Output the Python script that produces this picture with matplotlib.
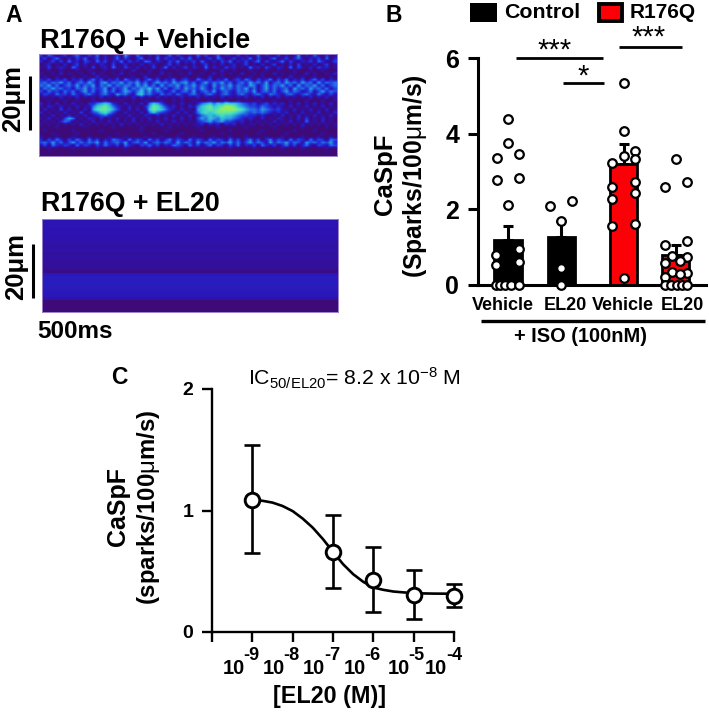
import numpy as np
import matplotlib
matplotlib.use("Agg")
import matplotlib.pyplot as plt
from matplotlib.colors import LinearSegmentedColormap
from matplotlib.patches import Rectangle
from matplotlib.lines import Line2D

plt.rcParams['font.family'] = ['Liberation Sans', 'DejaVu Sans']
plt.rcParams['mathtext.fontset'] = 'custom'
plt.rcParams['mathtext.rm'] = 'Liberation Sans'
plt.rcParams['mathtext.bf'] = 'Liberation Sans:bold'
plt.rcParams['mathtext.it'] = 'Liberation Sans:italic'

W, H = 709, 714

# panel A, intensity read by eye on a grid (0 dark .. 9 bright), one string per 3px row
vehicle_rows = [
    "30420130241031402013052041020301403102041301402103020140210302015020410301",
    "13024102031401302014031024010403120314020130420130214031024013024102130402",
    "20130304120320413021403120430210314021304102031402130240310240310213042013",
    "01201020130201021030120102012001302010201301020120130102013010203010201301",
    "10301210420103012041031020103014020130210402103120104120310210403102031201",
    "00100100010010001000100200010010001001000100020010001000100100010001001000",
    "10010201001002010010201001010020100102001002010100200101002010010020100102",
    "01001000100100201001000100200100100010010020010001001001000100200100100010",
    "21302130213024130213042130241302140231042130214023142031240314021302413021",
    "34243524134253145243524352413534253452413524352413425342513425342534152434",
    "43524134252435143524344253524152435243524315243524325413524352415243524134",
    "24353423143524235142352435463524134253425314253424352413524234153425342413",
    "31423142413524135241354246352431241342513425134214342513424135243124135243",
    "13214231421342134215342156342142314213421342134213421342143213421342142131",
    "01010201020101020101010202010201010201020101020101020102010201010102010201",
    "00100010010001001000100100100010010100100010001001000010001000100010001001",
    "2010201020102" + "245652" + "10201020" + "465310" + "102010" + "24564657665432" + "31231212" + "0102010201020",
    "1021020102011" + "467864" + "21020102" + "587531" + "201021" + "46786789986543" + "32432121" + "0201020102010",
    "0201030201020" + "578875" + "31020201" + "687642" + "102010" + "56787899998754" + "43543231" + "1020102010201",
    "2010102010301" + "346753" + "10201020" + "464321" + "020201" + "46767888876543" + "43432121" + "2010201020102",
    "0102010201020" + "123421" + "01020102" + "102010" + "201020" + "24565676654332" + "21210102" + "0102010201020",
    "1020103540102" + "102010" + "20102010" + "201020" + "102010" + "35465465543212" + "10201021" + "0102030102010",
    "0101024301010" + "201020" + "10102010" + "102010" + "201010" + "23453453321201" + "01010201" + "0201040102010",
    "1010101010201" + "010101" + "02010101" + "010201" + "010101" + "12021202120101" + "10101010" + "1010201010101",
    "00001000000100000010000001000000100000010000100000010000001000000100000100",
    "01000000100000010000000001000001000000001000000100000001000000010000100000",
    "00010000010000000001000000001000000100000000010000000010000001000000001000",
    "10001000100010000100010000100010001000100001000100010000100010000100010010",
    "20314203142041302143204132041302413204132041320413024130241320413204132043",
    "34252413524243514234251342513424315243152435243524135243152435243153424352",
    "13042132041320314213042103241302143204130241320314021304213024130241032143",
    "00100000100000100000010000010000001000001000000100000100000010000100000100",
    "00000000000000000000000000000000000000000000000000000000000000000000000000",
    "00000000000000000000000000000000000000000000000000000000000000000000000000",
]
# panel A lower image, one level per 3px row from top to bottom
el20_rows = [1.0, 1.0, 1.0, 0.95, 1.0, 0.95, 0.9, 0.85, 0.8, 0.75, 0.85, 0.65, 0.8, 0.6, 0.7,
             0.55, 0.5, 0.3, 1.15, 1.25, 1.3, 1.3, 1.25, 1.2, 1.15, 1.1, 0.9, 0.0, 0.0, 0.0, 0.0]

# panel B
group_names = ["Vehicle", "EL20", "Vehicle", "EL20"]
bar_means = [1.2, 1.28, 3.19, 0.8]
bar_errs = [0.35, 0.42, 0.54, 0.26]
bar_colors = ["black", "black", "#fb0007", "#fb0007"]
group_pos = [0, 0.99, 2.14, 3.11]
dots_vehicle = [4.4, 3.76, 3.36, 3.47, 2.77, 2.82, 2.11, 0.8, 0.96, 0.53, 0.61, 0, 0, 0, 0, 0]
dots_vehicle_dx = [0, 0, -.21, .2, -.21, .2, 0, -.22, .21, -.22, .21, -.22, -.14, -.06, .05, .21]
dots_el20 = [2.08, 2.21, 1.68, 0.46, 0]
dots_el20_dx = [-.21, .2, 0, 0, 0]
dots_r176q = [5.35, 4.07, 3.42, 3.54, 3.23, 3.32, 2.73, 2.59, 2.42, 2.26, 1.57, 1.62, 0.19]
dots_r176q_dx = [0, 0, 0, .21, -.21, .21, .21, -.21, .21, -.21, -.21, .21, 0]
dots_r176q_el20 = [3.32, 2.73, 2.6, 1.15, 1.06, 0.77, 0.74, 0.64, 0.58, 0.34, 0.31, 0.28, 0.2, 0, 0, 0, 0, 0]
dots_r176q_el20_dx = [.01, .21, -.2, .21, -.2, -.07, .21, .07, -.2, -.07, .21, .07, -.2, -.2, -.1, .02, .11, .21]
all_dots = [dots_vehicle, dots_el20, dots_r176q, dots_r176q_el20]
all_dx = [dots_vehicle_dx, dots_el20_dx, dots_r176q_dx, dots_r176q_el20_dx]

# panel C
conc = [1e-9, 1e-7, 1e-6, 1e-5, 1e-4]
caspf = [1.087, 0.66, 0.432, 0.308, 0.30]
caspf_low = [0.652, 0.363, 0.165, 0.11, 0.206]
caspf_high = [1.535, 0.963, 0.70, 0.514, 0.393]
fit_logc = [-9, -8.75, -8.5, -8.25, -8, -7.75, -7.5, -7.25, -7, -6.75, -6.5, -6.25, -6, -5.75, -5.5, -5, -4.5, -4]
fit_y = [1.087, 1.08, 1.065, 1.037, 0.995, 0.933, 0.858, 0.765, 0.66, 0.558, 0.476, 0.413, 0.366, 0.347, 0.333, 0.319, 0.316, 0.315]
c_ticks = [1e-10, 1e-9, 1e-8, 1e-7, 1e-6, 1e-5, 1e-4]
c_exponents = ["-9", "-8", "-7", "-6", "-5", "-4"]
c_label_dx = [-30, -30, -30, -30, -26, -29]

fig = plt.figure(figsize=(W / 100, H / 100), dpi=100)


def ax_px(x0, y0, x1, y1):
    return fig.add_axes([x0 / W, 1 - y1 / H, (x1 - x0) / W, (y1 - y0) / H])


def txt(x, y, s, size, weight='bold', **kw):
    kw.setdefault('ha', 'center')
    kw.setdefault('va', 'center')
    return fig.text(x / W, 1 - y / H, s, fontsize=size, fontweight=weight, **kw)


def line_px(x0, y0, x1, y1, lw):
    fig.add_artist(Line2D([x0 / W, x1 / W], [1 - y0 / H, 1 - y1 / H], color='black', lw=lw, solid_capstyle='butt'))


kymo = LinearSegmentedColormap.from_list("kymo", ["#3d0a78", "#2c14b4", "#2232dc", "#2468e0", "#2ea4e0",
                                                  "#3cd0d0", "#5ce4a4", "#90ee64", "#c0f040", "#e0f030"])

# A
n_cols = 74
img1 = np.array([[int(c) for c in row[:n_cols].ljust(n_cols, '0')] for row in vehicle_rows])
ax = ax_px(39, 54, 337, 156)
ax.imshow(img1, cmap=kymo, vmin=0, vmax=11.5, aspect='auto', interpolation='bilinear')
ax.set_xticks([])
ax.set_yticks([])
for s in ax.spines.values():
    s.set_color("#9a80c8")
    s.set_linewidth(0.7)

img2 = np.tile(np.array(el20_rows)[:, None], (1, 4))
ax = ax_px(42, 219, 338, 312)
ax.imshow(img2, cmap=kymo, vmin=0, vmax=9, aspect='auto', interpolation='nearest')
ax.set_xticks([])
ax.set_yticks([])
for s in ax.spines.values():
    s.set_color("#9a80c8")
    s.set_linewidth(0.7)

txt(14, 15, "A", 16.5)
txt(40, 41, "R176Q + Vehicle", 19.5, ha='left')
txt(41, 204, "R176Q + EL20", 19.3, ha='left')
txt(37, 332, "500ms", 17.5, ha='left')
txt(13, 99, "20μm", 18.5, rotation=90)
txt(16, 267, "20μm", 18.5, rotation=90)
line_px(30, 76, 30, 130, 2.2)
line_px(33, 244, 33, 298, 2.2)

# B
unit = 54.0
ax = ax_px(478, 58, 706, 285)
ax.set_xlim(-30 / unit, 198 / unit)
ax.set_ylim(0, 6)
ax.bar(group_pos, bar_means, width=0.5, color=bar_colors, edgecolor='black', linewidth=2, zorder=2)
for i, p in enumerate(group_pos):
    ax.errorbar(p, bar_means[i], yerr=[[0], [bar_errs[i]]], color='black', lw=2.2, capsize=3.5, capthick=2.2, zorder=3)
    ax.plot(p + np.array(all_dx[i]), all_dots[i], 'o', ms=6.2, mfc='white', mec='black', mew=1.6,
            clip_on=False, zorder=5)
ax.set_yticks([0, 2, 4, 6])
ax.set_yticklabels(['0', '2', '4', '6'], fontsize=18, fontweight='bold')
ax.set_xticks([])
ax.tick_params(axis='y', length=7.5, width=2.2, pad=6)
ax.spines[['top', 'right']].set_visible(False)
ax.spines[['left', 'bottom']].set_linewidth(2.2)
ax.patch.set_alpha(0)

txt(394, 15, "B", 16.5)
fig.add_artist(Rectangle((470 / W, 1 - 22 / H), 27 / W, 19 / H, transform=fig.transFigure, fc='black', ec='black', lw=0))
fig.add_artist(Rectangle((599 / W, 1 - 20.5 / H), 23 / W, 16 / H, transform=fig.transFigure, fc='#fb0007', ec='black', lw=2.8))
txt(504, 12, "Control", 15.4, ha='left')
txt(630, 13, "R176Q", 15, ha='left')
line_px(516, 58, 603, 58, 2)
line_px(563, 83, 604, 83, 2)
line_px(619, 47, 682, 47, 2)
txt(555, 51, "***", 21, weight='normal')
txt(583, 77, "*", 21, weight='normal')
txt(649, 38, "***", 21, weight='normal')
for cx, name in zip([503, 565, 623, 682], group_names):
    txt(cx, 306, name, 13)
line_px(481, 321, 705, 321, 2.4)
txt(580, 336, "+ ISO (100nM)", 14.4)
txt(385, 174, "CaSpF", 18.5, rotation=90)
txt(415, 176, r"(Sparks/100$\mathrm{\mu}$m/s)", 17.7, rotation=90)

# C
ax = ax_px(212, 389, 454, 632)
ax.set_xscale('log')
ax.set_xlim(1e-10, 1e-4)
ax.set_ylim(0, 2)
ax.plot(10.0 ** np.array(fit_logc), fit_y, color='black', lw=1.9, zorder=2, clip_on=False)
caspf_a = np.array(caspf)
ax.errorbar(conc, caspf, yerr=[caspf_a - np.array(caspf_low), np.array(caspf_high) - caspf_a], fmt='none',
            ecolor='black', elinewidth=1.9, capsize=5.8, capthick=1.9, zorder=3, clip_on=False)
ax.plot(conc, caspf, 'o', ms=10.5, mfc='white', mec='black', mew=2.1, zorder=4, clip_on=False)
ax.set_xticks(c_ticks)
ax.set_xticklabels([])
ax.minorticks_off()
ax.set_yticks([0, 1, 2])
ax.set_yticklabels(['0', '1', '2'], fontsize=14, fontweight='bold')
ax.tick_params(length=7.5, width=1.7)
ax.tick_params(axis='y', pad=6)
for tick, dx, ex in zip(c_ticks[1:], c_label_dx, c_exponents):
    ax.annotate("10", xy=(tick, 0), xycoords=('data', 'axes fraction'), xytext=(dx, -36), textcoords='offset pixels',
                fontsize=14.5, fontweight='bold', ha='left', va='center', annotation_clip=False)
    ax.annotate(ex, xy=(tick, 0), xycoords=('data', 'axes fraction'), xytext=(dx + 21, -24), textcoords='offset pixels',
                fontsize=13, fontweight='bold', ha='left', va='center', annotation_clip=False)
ax.spines[['top', 'right']].set_visible(False)
ax.spines[['left', 'bottom']].set_linewidth(1.7)
ax.patch.set_alpha(0)

txt(119, 378, "C", 16.5)
txt(248, 378, r"IC$_{\mathrm{50/EL20}}$= 8.2 x 10$^{\mathrm{-8}}$ M", 15.3, weight='normal', ha='left')
txt(118, 507, "CaSpF", 18, rotation=90)
txt(148, 507, r"(sparks/100$\mathrm{\mu}$m/s)", 17.2, rotation=90)
txt(330, 697, "[EL20 (M)]", 16.8)

fig.savefig("out.png", dpi=100)
